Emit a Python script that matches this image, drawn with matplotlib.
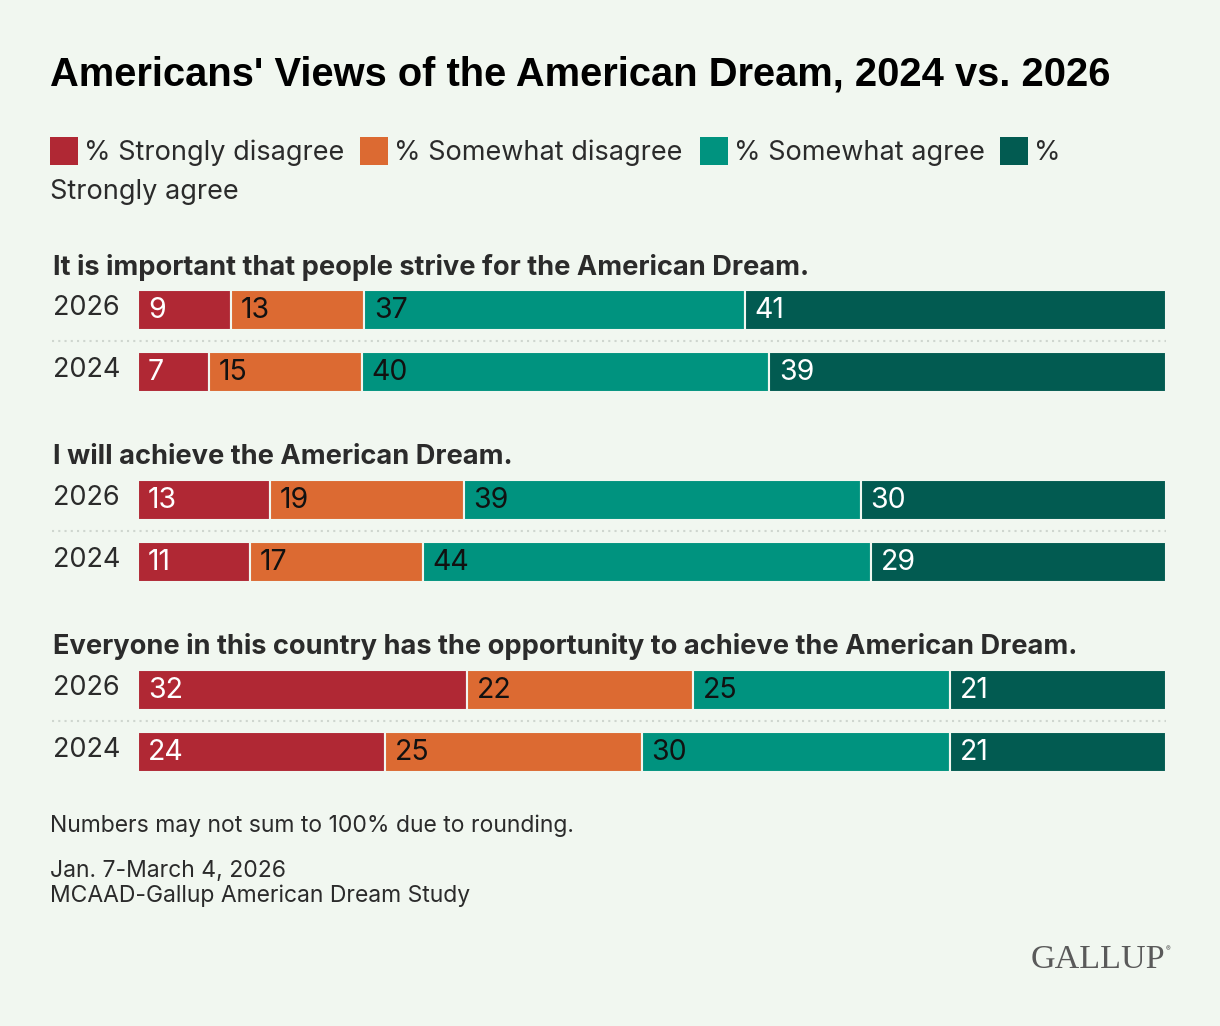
import matplotlib
matplotlib.use("Agg")
import matplotlib.pyplot as plt
import numpy as np

# ---- data -----------------------------------------------------------------
title = "Americans' Views of the American Dream, 2024 vs. 2026"
categories = ["% Strongly disagree", "% Somewhat disagree",
              "% Somewhat agree", "% Strongly agree"]
statements = [
    "It is important that people strive for the American Dream.",
    "I will achieve the American Dream.",
    "Everyone in this country has the opportunity to achieve the American Dream.",
]
years = ["2026", "2024"]
strongly_disagree = [[9, 7], [13, 11], [32, 24]]
somewhat_disagree = [[13, 15], [19, 17], [22, 25]]
somewhat_agree = [[37, 40], [39, 44], [25, 30]]
strongly_agree = [[41, 39], [30, 29], [21, 21]]
note = "Numbers may not sum to 100% due to rounding."
source = ["Jan. 7-March 4, 2026", "MCAAD-Gallup American Dream Study"]

# ---- style ----------------------------------------------------------------
BG = "#f1f7f0"
INK = "#2b2b2b"
colors = ["#b02834", "#dc6a32", "#00937f", "#025b51"]
label_colors = ["white", "#111111", "#111111", "white"]
BODY = ["Inter", "DejaVu Sans"]
W, H = 1220, 1026

fig = plt.figure(figsize=(W / 100, H / 100), dpi=100, facecolor=BG)


def px(x, y):
    return x / W, 1 - y / H


def text(x, y, s, **kw):
    kw.setdefault("family", BODY)
    kw.setdefault("color", INK)
    kw.setdefault("va", "center")
    fig.text(*px(x, y), s, **kw)


text(50, 75, title, family=["Liberation Sans"], weight="bold",
     fontsize=28.7, color="black")

# legend (wraps like the original)
leg_x = [50, 360, 700, 1000]
leg_txt = categories[:3] + ["%"]
for x, c, s in zip(leg_x, colors, leg_txt):
    fig.patches.append(plt.Rectangle(px(x, 165), 28 / W, 28 / H,
                                     transform=fig.transFigure,
                                     facecolor=c, edgecolor="none"))
    text(x + 34, 153, s, fontsize=19.5)
text(50, 192, "Strongly agree", fontsize=19.5)

# bars: x in percent of row total, y in pixel rows
ax = fig.add_axes([138 / W, 0, (1166 - 138) / W, 1])
ax.set_facecolor("none")
ax.set_xlim(0, 100)
ax.set_ylim(H, 0)
ax.axis("off")

series = [strongly_disagree, somewhat_disagree, somewhat_agree, strongly_agree]
group_top = [290, 480, 670]
bar_h = 40
row_gap = 62

for g, stmt in enumerate(statements):
    text(53, group_top[g] - 23, stmt, fontsize=19.6, weight="bold")
    for r, yr in enumerate(years):
        yc = group_top[g] + r * row_gap + bar_h / 2
        vals = np.array([s[g][r] for s in series], dtype=float)
        pct = vals / vals.sum() * 100
        left = 0.0
        for k in range(4):
            ax.barh(yc, pct[k], left=left, height=bar_h, color=colors[k],
                    edgecolor=BG, linewidth=1.5)
            ax.text(left + 0.95, yc + 1, f"{int(vals[k])}", ha="left",
                    va="center", fontsize=20.5, family=BODY,
                    color=label_colors[k])
            left += pct[k]
        text(53, yc - 2, yr, fontsize=19.5)
    sep_y = group_top[g] + bar_h + (row_gap - bar_h) / 2
    fig.add_artist(plt.Line2D([52 / W, 1166 / W], [1 - sep_y / H] * 2,
                              transform=fig.transFigure, color="#cfd6cf",
                              lw=1.5, ls=(0, (1, 2))))

text(50, 826, note, fontsize=16.5)
text(50, 871, source[0], fontsize=16.5)
text(50, 896, source[1], fontsize=16.5)

text(1165, 960, "GALLUP", family=["Liberation Serif"], fontsize=24.5,
     color="#5a5a5a", ha="right")
text(1166, 949, "®", fontsize=5, color="#5a5a5a", ha="left")

fig.savefig("out.png", dpi=100, facecolor=BG)
